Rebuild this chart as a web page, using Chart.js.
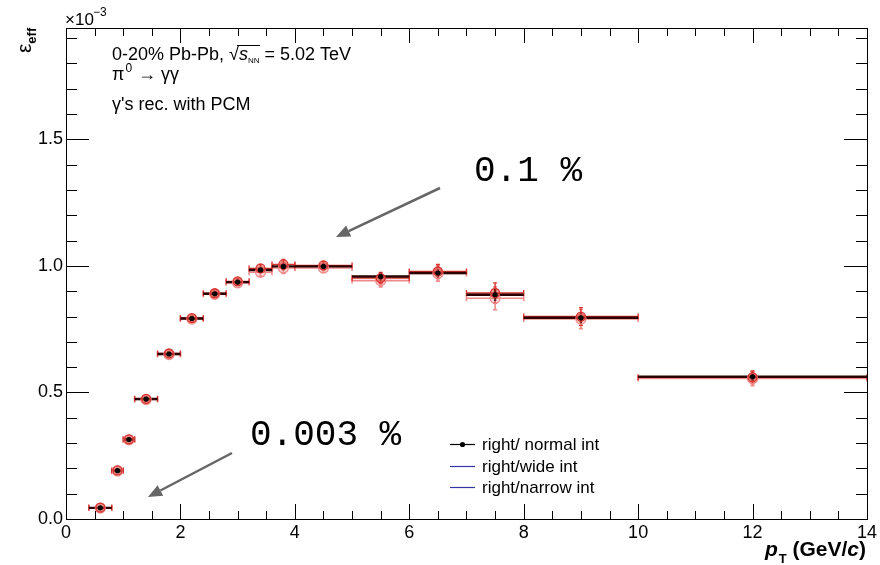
<!DOCTYPE html>
<html>
<head>
<meta charset="utf-8">
<script src="https://cdn.jsdelivr.net/npm/chart.js@4/dist/chart.umd.min.js"></script>
<style>
  html, body { margin: 0; padding: 0; background: #fff; }
</style>
</head>
<body>
<canvas id="eff-chart" width="880" height="565"></canvas>
<script>
// pT bins (GeV/c) and efficiency values in units of 1e-3
const binEdges = [0.4, 0.8, 1.0, 1.2, 1.6, 2.0, 2.4, 2.8, 3.2, 3.6, 4.0, 5.0, 6.0, 7.0, 8.0, 10.0, 14.0];
const effNormal = [0.044, 0.191, 0.314, 0.474, 0.652, 0.792, 0.890, 0.936, 0.984, 0.998, 0.998, 0.958, 0.972, 0.886, 0.795, 0.562];
const errNormal = [0.002, 0.003, 0.004, 0.005, 0.005, 0.006, 0.007, 0.008, 0.011, 0.014, 0.012, 0.015, 0.018, 0.025, 0.022, 0.016];
const effWide = [0.043, 0.190, 0.313, 0.472, 0.650, 0.790, 0.888, 0.933, 0.975, 0.992, 0.992, 0.942, 0.970, 0.872, 0.790, 0.555];
const errWide = [0.003, 0.004, 0.005, 0.006, 0.006, 0.007, 0.008, 0.010, 0.016, 0.022, 0.018, 0.025, 0.030, 0.045, 0.038, 0.028];
const effNarrow = [0.045, 0.192, 0.315, 0.475, 0.654, 0.794, 0.892, 0.939, 0.990, 1.006, 1.002, 0.952, 0.978, 0.893, 0.800, 0.560];
const errNarrow = [0.003, 0.004, 0.005, 0.006, 0.006, 0.007, 0.008, 0.010, 0.015, 0.020, 0.016, 0.022, 0.028, 0.040, 0.035, 0.025];
const xTicks = [0, 2, 4, 6, 8, 10, 12, 14];
const yTicks = [0.0, 0.5, 1.0, 1.5];

const SANS = '"Liberation Sans", Arial, sans-serif';
const MONO = '"Liberation Mono", monospace';

const binCenter = (i) => (binEdges[i] + binEdges[i + 1]) / 2;
const toPoints = (vals) => vals.map((v, i) => ({ x: binCenter(i), y: v }));

// series styling for bars and markers
const series = [
  { label: "right/wide int", vals: effWide, errs: errWide, color: "#f08a8a", width: 1.6, caps: true },
  { label: "right/narrow int", vals: effNarrow, errs: errNarrow, color: "#d8352f", width: 1.4, caps: true },
  { label: "right/ normal int", vals: effNormal, errs: errNormal, color: "#2a0000", width: 2.4, caps: false },
];

// horizontal bin widths + vertical errors, drawn under the markers
const errorBars = {
  id: "errorBars",
  beforeDatasetsDraw(chart) {
    const { ctx, scales: { x, y } } = chart;
    ctx.save();
    series.forEach((s) => {
      ctx.strokeStyle = s.color;
      ctx.lineWidth = s.width;
      s.vals.forEach((v, i) => {
        const xl = x.getPixelForValue(binEdges[i]);
        const xh = x.getPixelForValue(binEdges[i + 1]);
        const xc = x.getPixelForValue(binCenter(i));
        const yc = y.getPixelForValue(v);
        const ylo = y.getPixelForValue(v - s.errs[i]);
        const yhi = y.getPixelForValue(v + s.errs[i]);
        ctx.beginPath();
        ctx.moveTo(xl, yc); ctx.lineTo(xh, yc);
        ctx.moveTo(xc, ylo); ctx.lineTo(xc, yhi);
        if (s.caps) {
          ctx.moveTo(xl, yc - 3); ctx.lineTo(xl, yc + 3);
          ctx.moveTo(xh, yc - 3); ctx.lineTo(xh, yc + 3);
          ctx.moveTo(xc - 2, ylo); ctx.lineTo(xc + 2, ylo);
          ctx.moveTo(xc - 2, yhi); ctx.lineTo(xc + 2, yhi);
        }
        ctx.stroke();
      });
    });
    ctx.restore();
  },
};

function arrow(ctx, x0, y0, x1, y1) {
  const ang = Math.atan2(y1 - y0, x1 - x0);
  const hl = 14, hw = 6;
  const bx = x1 - hl * Math.cos(ang), by = y1 - hl * Math.sin(ang);
  ctx.beginPath();
  ctx.moveTo(x0, y0); ctx.lineTo(bx, by);
  ctx.stroke();
  ctx.beginPath();
  ctx.moveTo(x1, y1);
  ctx.lineTo(bx + hw * Math.sin(ang), by - hw * Math.cos(ang));
  ctx.lineTo(bx - hw * Math.sin(ang), by + hw * Math.cos(ang));
  ctx.closePath();
  ctx.fill();
}

// ROOT-like frame, inward ticks, labels, legend and notes
const decor = {
  id: "decor",
  afterDraw(chart) {
    const { ctx, chartArea: a, scales: { x, y } } = chart;
    ctx.save();
    ctx.strokeStyle = "#000";
    ctx.lineWidth = 1;
    ctx.strokeRect(a.left + 0.5, a.top + 0.5, a.right - a.left, a.bottom - a.top);

    ctx.beginPath();
    for (let k = 0; k <= 28; k++) {
      const px = Math.round(x.getPixelForValue(k * 0.5)) + 0.5;
      const len = k % 4 === 0 ? 15 : 8;
      ctx.moveTo(px, a.bottom); ctx.lineTo(px, a.bottom - len);
      ctx.moveTo(px, a.top); ctx.lineTo(px, a.top + len);
    }
    for (let k = 0; k <= 19; k++) {
      const py = Math.round(y.getPixelForValue(k * 0.1)) + 0.5;
      const len = k % 5 === 0 ? 23 : 11;
      ctx.moveTo(a.left, py); ctx.lineTo(a.left + len, py);
      ctx.moveTo(a.right, py); ctx.lineTo(a.right - len, py);
    }
    ctx.stroke();

    ctx.fillStyle = "#000";
    ctx.textBaseline = "alphabetic";
    // exponent
    ctx.font = `17px ${SANS}`;
    ctx.fillText("\u00d710", 65, 25);
    ctx.font = `12px ${SANS}`;
    ctx.fillText("\u22123", 93, 16);

    // y title: epsilon_eff, rotated
    ctx.save();
    ctx.translate(31, 53);
    ctx.rotate(-Math.PI / 2);
    ctx.font = `21px ${SANS}`;
    ctx.fillText("\u03b5", 0, 0);
    const ew = ctx.measureText("\u03b5").width;
    ctx.font = `bold 13px ${SANS}`;
    ctx.fillText("eff", ew, 5);
    ctx.restore();

    // x title: p_T (GeV/c)
    ctx.textAlign = "right";
    ctx.font = `bold 21px ${SANS}`;
    const tail = ")";
    let xr = 866;
    ctx.fillText(tail, xr, 556);
    xr -= ctx.measureText(tail).width;
    ctx.font = `italic bold 21px ${SANS}`;
    ctx.fillText("c", xr, 556);
    xr -= ctx.measureText("c").width;
    ctx.font = `bold 21px ${SANS}`;
    ctx.fillText(" (GeV/", xr, 556);
    xr -= ctx.measureText(" (GeV/").width;
    ctx.font = `bold 13px ${SANS}`;
    ctx.fillText("T", xr, 563);
    xr -= ctx.measureText("T").width + 1;
    ctx.font = `italic bold 21px ${SANS}`;
    ctx.fillText("p", xr, 556);
    ctx.textAlign = "left";

    // header lines
    ctx.font = `18px ${SANS}`;
    ctx.fillText("0-20% Pb-Pb,", 112, 60);
    let hx = 117 + ctx.measureText("0-20% Pb-Pb,").width;
    ctx.fillText("\u221a", hx, 60);
    hx += ctx.measureText("\u221a").width;
    ctx.font = `italic 18px ${SANS}`;
    const sw = ctx.measureText("s").width;
    ctx.fillText("s", hx, 60);
    ctx.beginPath();
    ctx.moveTo(hx - 2, 45.5); ctx.lineTo(hx + sw + 12, 45.5);
    ctx.stroke();
    hx += sw;
    ctx.font = `8px ${SANS}`;
    ctx.fillText("NN", hx, 63);
    hx += ctx.measureText("NN").width;
    ctx.font = `18px ${SANS}`;
    ctx.fillText(" = 5.02 TeV", hx, 60);

    ctx.fillText("\u03c0", 112, 80);
    let gx = 112 + ctx.measureText("\u03c0").width;
    ctx.font = `12px ${SANS}`;
    ctx.fillText("0", gx + 1, 72);
    gx += ctx.measureText("0").width + 2;
    ctx.font = `18px ${SANS}`;
    ctx.fillText(" \u2192 \u03b3\u03b3", gx, 80);

    ctx.fillText("\u03b3's rec. with PCM", 112, 110);

    // legend
    const rows = [series[2], series[0], series[1]];
    rows.forEach((s, r) => {
      const ly = Math.round(444 + r * 21.5) + 0.5;
      ctx.strokeStyle = r === 0 ? "#000" : "#3434a4";
      ctx.lineWidth = 1.2;
      ctx.beginPath();
      ctx.moveTo(450, ly); ctx.lineTo(475, ly);
      ctx.stroke();
      if (r === 0) {
        ctx.fillStyle = "#000";
        ctx.beginPath();
        ctx.arc(462.5, ly, 2.6, 0, Math.PI * 2);
        ctx.fill();
      }
      ctx.fillStyle = "#000";
      ctx.font = `17px ${SANS}`;
      ctx.textBaseline = "middle";
      ctx.fillText(s.label, 482, ly + 1);
      ctx.textBaseline = "alphabetic";
    });

    // percentage notes with arrows
    ctx.fillStyle = "#000";
    ctx.font = `36px ${MONO}`;
    ctx.fillText("0.1 %", 474, 181);
    ctx.fillText("0.003 %", 250, 445);
    ctx.strokeStyle = "#666";
    ctx.fillStyle = "#666";
    ctx.lineWidth = 2.5;
    arrow(ctx, 440, 188, 336, 237);
    arrow(ctx, 232, 453, 148, 497);
    ctx.restore();
  },
};

new Chart(document.getElementById("eff-chart"), {
  type: "scatter",
  data: {
    datasets: [
      {
        label: "right/ normal int",
        data: toPoints(effNormal),
        pointRadius: 2.6,
        pointBackgroundColor: "#000",
        pointBorderColor: "#000",
        pointBorderWidth: 0,
        order: 0,
      },
      {
        label: "right/narrow int",
        data: toPoints(effNarrow),
        pointRadius: 4.5,
        pointBackgroundColor: "rgba(216,53,47,0.45)",
        pointBorderColor: "#d8352f",
        pointBorderWidth: 1.3,
        order: 1,
      },
      {
        label: "right/wide int",
        data: toPoints(effWide),
        pointRadius: 5,
        pointBackgroundColor: "rgba(240,138,138,0.3)",
        pointBorderColor: "#f08a8a",
        pointBorderWidth: 1.3,
        order: 2,
      },
    ],
  },
  options: {
    responsive: false,
    animation: false,
    layout: { padding: { top: 28, right: 12, left: 0, bottom: 0 } },
    plugins: { legend: { display: false }, tooltip: { enabled: false } },
    scales: {
      x: {
        type: "linear",
        min: 0,
        max: 14,
        afterBuildTicks: (s) => { s.ticks = xTicks.map((v) => ({ value: v })); },
        afterFit: (s) => { s.height = 46; },
        ticks: {
          padding: 3,
          maxRotation: 0,
          color: "#000",
          font: { family: SANS, size: 18 },
          callback: (v) => String(v),
        },
        grid: { display: false, drawTicks: false },
        border: { display: false },
      },
      y: {
        min: 0,
        max: 1.94,
        afterBuildTicks: (s) => { s.ticks = yTicks.map((v) => ({ value: v })); },
        afterFit: (s) => { s.width = 66; },
        ticks: {
          padding: 3,
          color: "#000",
          font: { family: SANS, size: 18 },
          callback: (v) => v.toFixed(1),
        },
        grid: { display: false, drawTicks: false },
        border: { display: false },
      },
    },
  },
  plugins: [errorBars, decor],
});
</script>
</body>
</html>
